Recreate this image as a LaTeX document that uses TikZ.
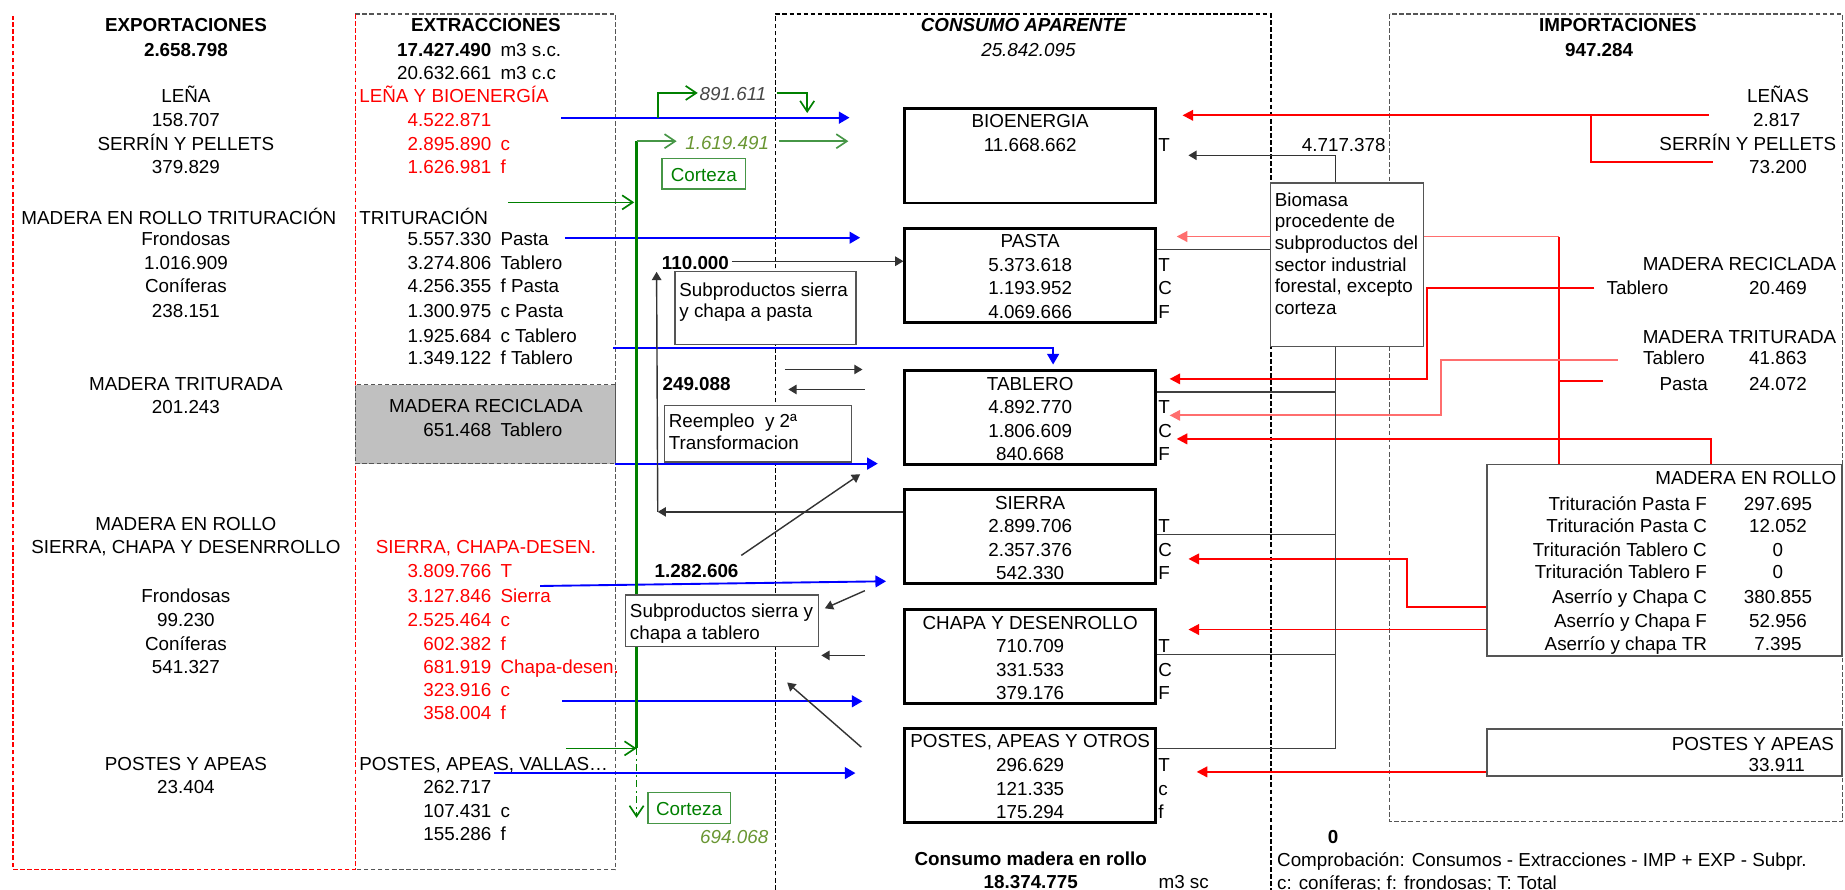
\documentclass[tikz,border=0pt]{standalone}
\usepackage{fontspec}
\setmainfont{Liberation Sans}
\usetikzlibrary{arrows.meta}
\definecolor{azul}{RGB}{0,0,255}
\definecolor{rojo}{RGB}{255,0,0}
\definecolor{rosa}{RGB}{255,110,110}
\definecolor{verde}{RGB}{0,128,0}
\definecolor{verdec}{RGB}{70,150,70}
\definecolor{oliva}{RGB}{105,150,50}
\definecolor{gristxt}{RGB}{70,70,70}
\definecolor{grisfondo}{RGB}{192,192,192}
\definecolor{marco}{RGB}{85,85,85}

\begin{document}
\begin{tikzpicture}[x=0.5pt,y=-0.5pt,
  every node/.style={inner sep=0pt,font=\fontsize{8}{10}\selectfont},
  txt/.style={anchor=mid,yshift=-0.7pt},
  txtl/.style={anchor=mid west,yshift=-0.7pt},
  txtr/.style={anchor=mid east,yshift=-0.7pt},
  negrita/.style={font=\fontsize{8}{10}\selectfont\bfseries},
  cursiva/.style={font=\fontsize{8}{10}\selectfont\itshape},
  cbox/.style={draw,line width=1.2pt,minimum width=106.5pt,minimum height=40pt},
  tbox/.style={draw=marco,line width=0.6pt,fill=white,anchor=north west},
  vbox/.style={draw=verdec,line width=0.6pt,fill=white,anchor=north west},
  punteado/.style={line width=0.6pt,dash pattern=on 2pt off 1pt},
  azulf/.style={azul,line width=0.8pt,-{Triangle[length=4.5pt,width=5pt]}},
  rojof/.style={rojo,line width=0.8pt,-{Triangle[length=4.5pt,width=4.5pt]}},
  rosaf/.style={rosa,line width=0.8pt,-{Triangle[length=4.5pt,width=4.5pt]}},
  negraf/.style={black!80,line width=0.6pt,-{Triangle[length=3.5pt,width=4pt]}},
  linea/.style={black!75,line width=0.6pt},
  verdef/.style={verde,line width=0.7pt,-{Straight Barb[length=4.5pt,width=6pt]}}]
\useasboundingbox (0,0) rectangle (1568,756);

% marcos
\draw[punteado,marco] (302,12) -- (523,12) -- (523,739) -- (302,739);
\draw[punteado,rojo] (302,12) -- (302,739) -- (11,739) -- (11,14);
\draw[punteado,black] (659,756) -- (659,12) -- (1080,12) -- (1080,756);
\draw[punteado,marco] (1181,12) rectangle (1566,698);

% exportaciones
\node[txt,negrita] (exptit) at (158,20) {EXPORTACIONES};
\node[txt,negrita] (exptot) at (158,41) {2.658.798};
\node[txt] (exp184) at (152,184) {MADERA EN ROLLO TRITURACIÓN};
\foreach \y/\tx in {80/LEÑA, 101/158.707, 121/SERRÍN Y PELLETS, 141/379.829,
  202/Frondosas, 222/1.016.909, 242/Coníferas, 263/238.151,
  325/MADERA TRITURADA, 345/201.243, 444/MADERA EN ROLLO,
  464/{SIERRA, CHAPA Y DESENRROLLO}, 505/Frondosas, 526/99.230,
  546/Coníferas, 566/541.327, 648/POSTES Y APEAS, 668/23.404}
  \node[txt] (exp\y) at (158,\y) {\tx};

% extracciones
\node[txt,negrita] (exttit) at (413,20) {EXTRACCIONES};
\node[txtr,negrita] (extn41) at (418,41) {17.427.490};
\node[txtl] (exts41) at (425,41) {m3 s.c.};
\node[txtl,text=rojo] (extlena) at (305,80) {LEÑA Y BIOENERGÍA};
\node[txtl] (exttrit) at (305,184) {TRITURACIÓN};
\node[txt,text=rojo] (extsierra) at (413,464) {SIERRA, CHAPA-DESEN.};
\node[txtl] (extpostes) at (305,648) {POSTES, APEAS, VALLAS…};
\foreach \y/\nu/\su/\col in {61/20.632.661/m3 c.c/black, 101/4.522.871//rojo,
  121/2.895.890/c/rojo, 141/1.626.981/f/rojo, 202/5.557.330/Pasta/black,
  222/3.274.806/Tablero/black, 242/4.256.355/f Pasta/black,
  263/1.300.975/c Pasta/black, 284/1.925.684/c Tablero/black,
  303/1.349.122/f Tablero/black, 484/3.809.766/T/rojo,
  505/3.127.846/Sierra/rojo, 526/2.525.464/c/rojo, 546/602.382/f/rojo,
  566/681.919/Chapa-desen./rojo, 585/323.916/c/rojo, 605/358.004/f/rojo,
  668/262.717//black, 688/107.431/c/black, 708/155.286/f/black}
{
  \node[txtr,text=\col] (extn\y) at (418,\y) {\nu};
  \node[txtl,text=\col] (exts\y) at (425,\y) {\su};
}
\node[draw=marco,fill=grisfondo,punteado,minimum width=110.5pt,minimum height=33.5pt] (recic) at (412.5,360.5) {};
\node[txt] (recictit) at (413,344) {MADERA RECICLADA};
\node[txtr] (recicn) at (418,364) {651.468};
\node[txtl] (recics) at (425,364) {Tablero};

% consumo aparente
\node[txt,font=\fontsize{8}{10}\selectfont\bfseries\itshape] (constit) at (870,20) {CONSUMO APARENTE};
\node[txt,cursiva] (constot) at (874,41) {25.842.095};
\node[cbox] (bio) at (875.5,132.5) {};
\node[txt] (biotit) at (875.5,102) {BIOENERGIA};
\node[txt] (bion) at (875.5,122) {11.668.662};
\node[txtl] (biol) at (984,122) {T};
\foreach \nm/\yt/\tit/\va/\vb/\vc/\lb/\lc in {pasta/194/PASTA/5.373.618/1.193.952/4.069.666/C/F,
  tablero/315/TABLERO/4.892.770/1.806.609/840.668/C/F,
  sierra/416/SIERRA/2.899.706/2.357.376/542.330/C/F,
  chapa/518/CHAPA Y DESENROLLO/710.709/331.533/379.176/C/F,
  postes/619/{POSTES, APEAS Y OTROS}/296.629/121.335/175.294/c/f}
{
  \node[cbox] (\nm) at (875.5,\yt+40) {};
  \node[txt] (\nm-tit) at (875.5,\yt+10) {\tit};
  \node[txt] (\nm-a) at (875.5,\yt+30) {\va};
  \node[txt] (\nm-b) at (875.5,\yt+50) {\vb};
  \node[txt] (\nm-c) at (875.5,\yt+70) {\vc};
  \node[txtl] (\nm-la) at (984,\yt+30) {T};
  \node[txtl] (\nm-lb) at (984,\yt+50) {\lb};
  \node[txtl] (\nm-lc) at (984,\yt+70) {\lc};
}
\node[txt,negrita] (cmr) at (876,729) {Consumo madera en rollo};
\node[txt,negrita] (cmrn) at (876,748) {18.374.775};
\node[txt] (cmru) at (1006,748) {m3 sc};

% flechas azules
\foreach \nm/\x/\y in {la/477/100, lb/722/100, pa/480/202, pb/731/202,
  ta/521/296, tb/895/296, ra/523/394, rb/746/394, sa/459/498, sb/753/494,
  ca/478/596, cb/733/596, oa/420/657, ob/727/657}
  \coordinate (\nm) at (\x,\y);
\draw[azulf] (la) -- (lb);
\draw[azulf] (pa) -- (pb);
\draw[azulf] (ta) -- (tb) -- ([yshift=2pt]tablero.north -| tb);
\draw[azulf] (ra) -- (rb);
\draw[azulf] (sa) -- (sb);
\draw[azulf] (ca) -- (cb);
\draw[azulf] (oa) -- (ob);

% flechas verdes
\foreach \nm/\x/\y in {ga/559/100, gb/559/79, gc/593/79, gd/660/79, ge/686/79,
  gf/686/96, gv/541/636, gw/541/120, gx/575/120, gy/662/120, gz/721/120,
  gt/432/172, gu/539/172, gp/481/636, gq/541/695}
  \coordinate (\nm) at (\x,\y);
\draw[verdef] (ga) -- (gb) -- (gc);
\draw[verdef] (gd) -- (ge) -- (gf);
\draw[verde,line width=1pt] (gv) -- (gw);
\draw[verdef,verdec] (gw) -- (gx);
\draw[verdef,verdec] (gy) -- (gz);
\draw[verdef] (gt) -- (gu);
\draw[verdef] (gp) -- (gv);
\draw[verdef,dash pattern=on 3pt off 1.5pt on 0.8pt off 1.5pt] (gv) -- (gq);
\node[txt,cursiva,text=gristxt] (g891) at (623,79) {891.611};
\node[txt,cursiva,text=oliva] (g1619) at (618,120) {1.619.491};
\node[vbox,minimum width=35.5pt,minimum height=13pt] (cort1) at (562,134) {};
\node[txt,text=verde] (cort1t) at (cort1) {Corteza};
\node[vbox,minimum width=35pt,minimum height=13pt] (cort2) at (550,673) {};
\node[txt,text=verde] (cort2t) at (cort2) {Corteza};
\node[txt,cursiva,text=oliva] (g694) at (624,710) {694.068};

% flechas negras
\foreach \nm/\x/\y in {kp/622/222, ks/559/435, kt/558/231, ka/667/314, kb/733/314,
  kc/735/331, kd/670/331, ke/630/472, kf/731/403, kg/735/502, kh/701/517,
  ki/735/557, kj/698/557, kk/732/635, kl/669/580}
  \coordinate (\nm) at (\x,\y);
\draw[negraf] (kp) -- (pasta.west |- kp);
\draw[negraf] (sierra.west |- ks) -- (ks);
\draw[negraf] (ks) -- (kt);
\draw[negraf] (ka) -- (kb);
\draw[negraf] (kc) -- (kd);
\draw[negraf] (ke) -- (kf);
\draw[negraf] (kg) -- (kh);
\draw[negraf] (ki) -- (kj);
\draw[negraf] (kk) -- (kl);
\node[txt,negrita] (k110) at (591,222) {110.000};
\node[txt,negrita] (k249) at (592,325) {249.088};
\node[txt,negrita] (k1282) at (592,484) {1.282.606};

\node[tbox,minimum width=77pt,minimum height=31pt] (subpasta) at (573,230) {};
\node[txtl] (subpasta1) at (577,245) {Subproductos sierra};
\node[txtl] (subpasta2) at (577,263) {y chapa a pasta};
\node[tbox,minimum width=79.5pt,minimum height=24pt] (reemp) at (564,344) {};
\node[txtl] (reemp1) at (568,357) {Reempleo \ y 2ª};
\node[txtl] (reemp2) at (568,375) {Transformacion};
\node[tbox,minimum width=82pt,minimum height=22pt] (subtab) at (531,505) {};
\node[txtl] (subtab1) at (535,518) {Subproductos sierra y};
\node[txtl] (subtab2) at (535,537) {chapa a tablero};

% importaciones
\node[txt,negrita] (imptit) at (1375,20) {IMPORTACIONES};
\node[txt,negrita] (imptot) at (1359,41) {947.284};
\node[txt] (implena) at (1511,80) {LEÑAS};
\node[txt] (implenan) at (1510,101) {2.817};
\node[txtr] (impserr) at (1561,121) {SERRÍN Y PELLETS};
\node[txt] (impserrn) at (1511,141) {73.200};
\node[txtr] (imprec) at (1561,223) {MADERA RECICLADA};
\node[txtl] (imprect) at (1365,244) {Tablero};
\node[txt] (imprecn) at (1511,244) {20.469};
\node[txtr] (imptrit) at (1561,285) {MADERA TRITURADA};
\node[txtl] (imptritt) at (1396,303) {Tablero};
\node[txt] (imptrittn) at (1511,303) {41.863};
\node[txtl] (imptritp) at (1410,325) {Pasta};
\node[txt] (imptritpn) at (1511,325) {24.072};

\node[tbox,minimum width=151pt,minimum height=81.5pt] (rollo) at (1263,394) {};
\node[txtr] (rollotit) at (1561,405) {MADERA EN ROLLO};
\foreach \y/\tx/\val in {427/Trituración Pasta F/297.695, 446/Trituración Pasta C/12.052,
  466/Trituración Tablero C/0, 485/Trituración Tablero F/0,
  506/Aserrío y Chapa C/380.855, 527/Aserrío y Chapa F/52.956,
  546/Aserrío y chapa TR/7.395}
{
  \node[txtr] (rollol\y) at (1451,\y) {\tx};
  \node[txt] (rollov\y) at (1511,\y) {\val};
}
\node[tbox,minimum width=151pt,minimum height=20pt] (postesimp) at (1263,619) {};
\node[txtr] (postesimpt) at (1559,631) {POSTES Y APEAS};
\node[txt] (postesimpn) at (1510,649) {33.911};

% flechas rojas
\foreach \nm/\x/\y in {ra1/1452/98, rb1/1005/98, rc1/1352/98, rd1/1352/138, re1/1456/138,
  ra2/1325/201, rb2/1000/201, rc2/1362/324, ra3/1355/245, rb3/1213/245,
  rc3/1213/322, rd3/994/322, ra4/1375/306, rb4/1225/306, rc4/1225/353,
  rd4/994/353, ra5/1454/373, rb5/1000/373, ra6/1196/516, rb6/1196/475,
  rc6/1010/475, rb7/1010/535, rb8/1017/656}
  \coordinate (\nm) at (\x,\y);
\draw[rojof] (ra1) -- (rb1);
\draw[rojo,line width=0.8pt] (rc1) -- (rd1) -- (re1);
\draw[rojo,line width=0.8pt] (rollo.north -| ra2) -- (ra2);
\draw[rosaf] (ra2) -- (rb2);
\draw[rojo,line width=0.8pt] (rc2) -- (rc2 -| ra2);
\draw[rojof] (ra3) -- (rb3) -- (rc3) -- (rd3);
\draw[rosaf] (ra4) -- (rb4) -- (rc4) -- (rd4);
\draw[rojof] (rollo.north -| ra5) -- (ra5) -- (rb5);
\draw[rojof] (rollo.west |- 0,516) -- (ra6) -- (rb6) -- (rc6);
\draw[rojof] (rollo.west |- rb7) -- (rb7);
\draw[rojof] (postesimp.west |- rb8) -- (rb8);

% biomasa
\coordinate (bus) at (1135,294);
\foreach \nm/\y in {pasta/212, tablero/333, sierra/454, chapa/556, postes/636}
  \draw[linea] (\nm.east |- 0,\y) -- (bus |- 0,\y);
\draw[linea] (bus) -- (bus |- 0,636);
\node[tbox,minimum width=65pt,minimum height=69.5pt] (biomasa) at (1079,155) {};
\draw[negraf] (biomasa.north -| bus) -- (1135,132) -- (1010,132);
\node[txt] (bio4717) at (1142,122) {4.717.378};
\foreach \y/\tx in {169/Biomasa, 187/procedente de, 205/subproductos del,
  224/sector industrial, 242/{forestal, excepto}, 261/corteza}
  \node[txtl] (biom\y) at (1083,\y) {\tx};

% pie
\node[txt,negrita] (cero) at (1133,710) {0};
\node[txtl] (compr) at (1085,730) {Comprobación: Consumos - Extracciones - IMP + EXP - Subpr.};
\node[txtl] (leyenda) at (1085,749) {c: coníferas; f: frondosas; T: Total};
\end{tikzpicture}
\end{document}
